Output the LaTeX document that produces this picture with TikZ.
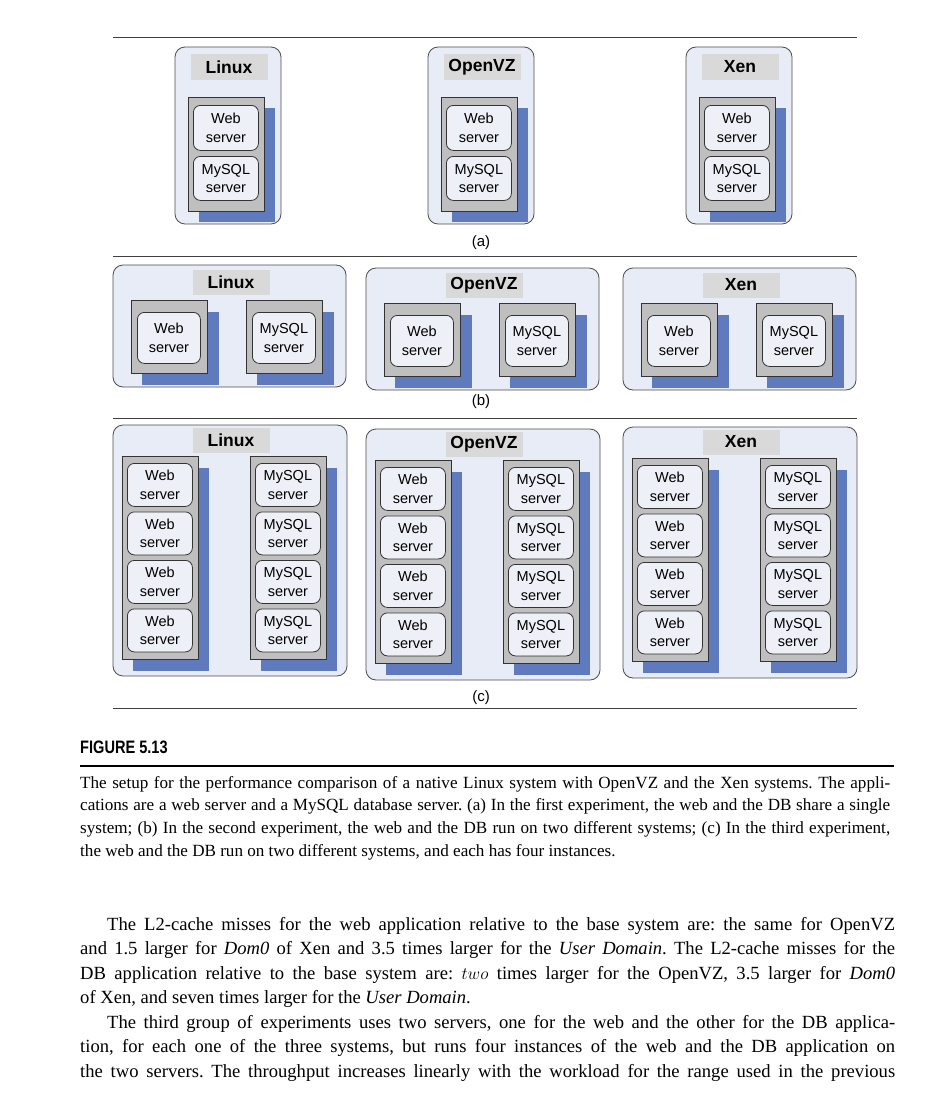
\documentclass[tikz,border=0pt]{standalone}
\usepackage{fontspec}
\setmainfont{Liberation Serif}
\setsansfont{Liberation Sans}
\definecolor{hostfill}{RGB}{232,236,246}
\definecolor{labelgray}{RGB}{217,217,217}
\definecolor{vmgray}{RGB}{191,191,191}
\definecolor{shadowblue}{RGB}{96,123,189}
\definecolor{srvfill}{RGB}{238,240,247}
\frenchspacing
\begin{document}
\begin{tikzpicture}[
    x=1pt, y=-1pt,
    host/.style={draw=black!70, fill=hostfill, rounded corners=10pt, line width=0.8pt},
    oslabel/.style={fill=labelgray, inner sep=0pt, minimum width=77pt, minimum height=25pt,
        font=\sffamily\bfseries\fontsize{17.5}{20}\selectfont},
    vmbox/.style={draw=black!80, fill=vmgray, line width=0.8pt},
    vmshadow/.style={fill=shadowblue},
    srv/.style={draw=black!80, fill=srvfill, rounded corners=7pt, line width=0.8pt, anchor=north west,
        align=center, inner sep=0pt, font=\sffamily\fontsize{14.5}{18.5}\selectfont},
    sublabel/.style={font=\sffamily\fontsize{15}{18}\selectfont},
    sep/.style={draw=black!75, line width=0.8pt}
]
\useasboundingbox (0,0) rectangle (948,1108);

% Separating rules
\draw[sep] (113,37) -- (857,37);
\draw[sep] (113,256) -- (857,256);
\draw[sep] (113,418) -- (857,418);
\draw[sep] (113,708) -- (857,708);

% (a) web and DB share a single system
\foreach \hx/\sys in {175/Linux,428/OpenVZ,686/Xen} {
    \draw[host] (\hx,47) rectangle ++(106,177);
    \node[oslabel] (a-\sys) at (\hx+54,67) {\sys};
    \fill[vmshadow] (\hx+24,108) rectangle ++(76,114);
    \draw[vmbox] (\hx+13,97) rectangle ++(76,114);
    \node[srv, minimum width=65pt, minimum height=45pt] (a-\sys-web) at (\hx+18,105) {Web\\server};
    \node[srv, minimum width=65pt, minimum height=44pt] (a-\sys-sql) at (\hx+18,156) {MySQL\\server};
}
\node[sublabel] (a) at (481,243) {(a)};

% (b) web and DB on two different systems
\foreach \hx/\hy/\sys in {113/265/Linux,366/268/OpenVZ,623/268/Xen} {
    \draw[host] (\hx,\hy) rectangle ++(233,122);
    \node[oslabel] (b-\sys) at (\hx+118,\hy+17) {\sys};
    \foreach \vx/\app/\txt in {18/web/Web,133/sql/MySQL} {
        \fill[vmshadow] (\hx+\vx+11,\hy+47) rectangle ++(77,73);
        \draw[vmbox] (\hx+\vx,\hy+35) rectangle ++(76,73);
        \node[srv, minimum width=63pt, minimum height=51pt] (b-\sys-\app) at (\hx+\vx+6,\hy+47) {\txt\\server};
    }
}
\node[sublabel] (b) at (481,402) {(b)};

% (c) two systems, four instances each
\foreach \hx/\hy/\sys in {113/425/Linux,366/429/OpenVZ,623/427/Xen} {
    \draw[host] (\hx,\hy) rectangle ++(234,251);
    \node[oslabel] (c-\sys) at (\hx+118,\hy+15) {\sys};
    \foreach \vx/\app/\txt in {9/web/Web,137/sql/MySQL} {
        \fill[vmshadow] (\hx+\vx+11,\hy+43) rectangle ++(76,203);
        \draw[vmbox] (\hx+\vx,\hy+31) rectangle ++(76,203);
        \foreach \k in {0,1,2,3}
            \node[srv, minimum width=65pt, minimum height=43pt] (c-\sys-\app\k) at (\hx+\vx+5,\hy+38+48.5*\k) {\txt\\server};
    }
}
\node[sublabel] (c) at (481,698) {(c)};

% Caption
\node[anchor=north west, inner sep=0pt, font=\sffamily\bfseries\fontsize{18}{20}\selectfont] (fig) at (80,741)
    {\scalebox{0.81}[1]{FIGURE 5.13}};
\draw[line width=1.2pt] (80,766) -- (894,766);
\node[anchor=north west, inner sep=0pt, text width=810pt, align=justify,
      font=\fontsize{17.1}{22.7}\selectfont] (caption) at (80,776) {%
The setup for the performance comparison of a native Linux system with OpenVZ and the Xen systems. The appli-\linebreak
cations are a web server and a MySQL database server. (a) In the first experiment, the web and the DB share a single\linebreak
system; (b) In the second experiment, the web and the DB run on two different systems; (c) In the third experiment,\linebreak
the web and the DB run on two different systems, and each has four instances.};

% Body text
\node[anchor=north west, inner sep=0pt, text width=815pt, align=justify,
      font=\fontsize{18.6}{24.5}\selectfont] (body) at (80,917) {%
\hspace*{27pt}The L2-cache misses for the web application relative to the base system are: the same for OpenVZ\linebreak
and 1.5 larger for \textit{Dom0} of Xen and 3.5 times larger for the \textit{User Domain}. The L2-cache misses for the\linebreak
DB application relative to the base system are: $two$ times larger for the OpenVZ, 3.5 larger for \textit{Dom0}\linebreak
of Xen, and seven times larger for the \textit{User Domain}.\par
\hspace*{27pt}The third group of experiments uses two servers, one for the web and the other for the DB applica-\linebreak
tion, for each one of the three systems, but runs four instances of the web and the DB application on\linebreak
\makebox[815pt][s]{the two servers. The throughput increases linearly with the workload for the range used in the previous}};

\end{tikzpicture}
\end{document}
